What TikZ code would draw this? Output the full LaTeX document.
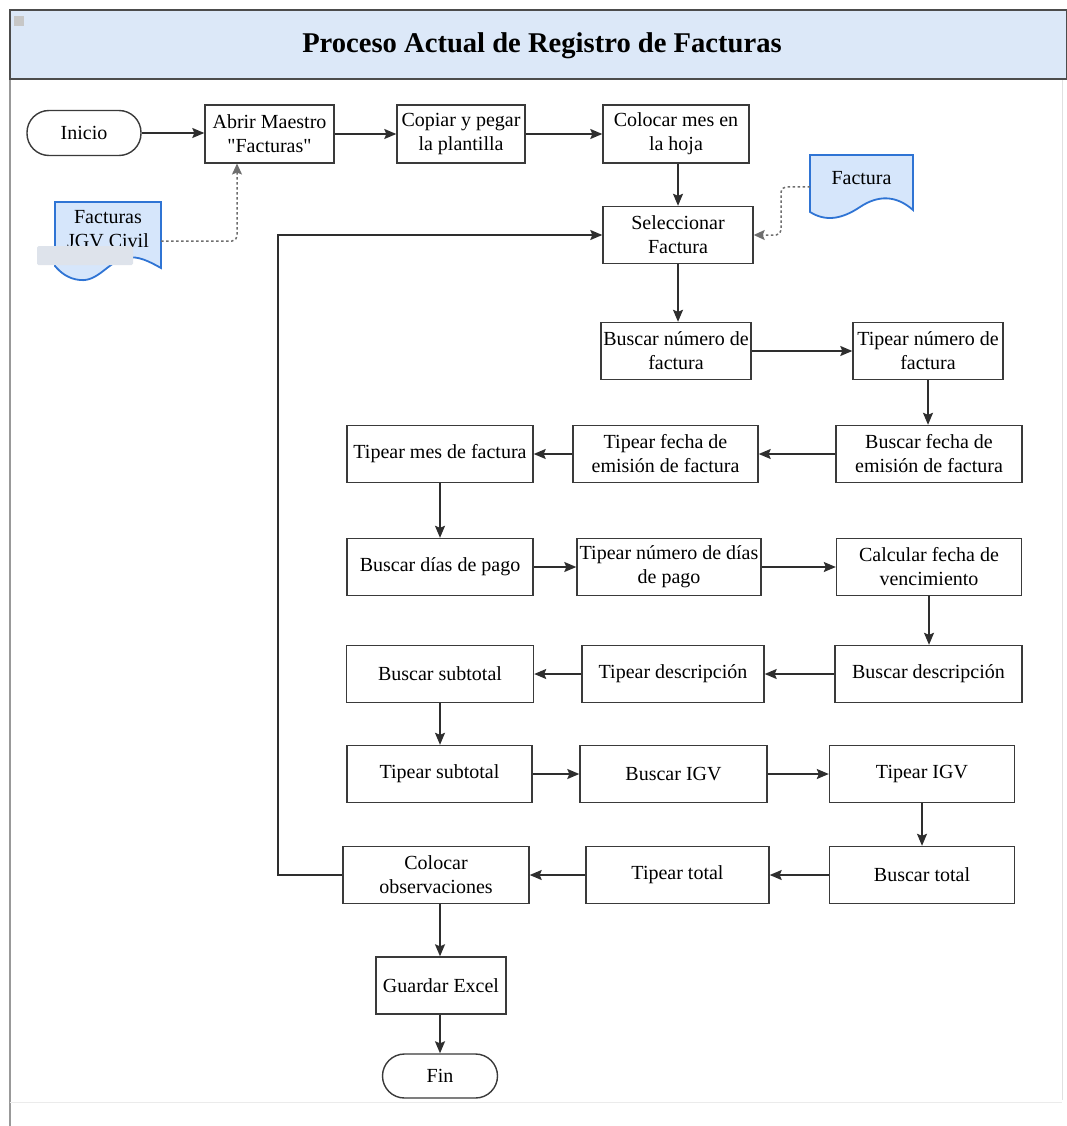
\documentclass[tikz,border=0pt]{standalone}
\usepackage{fontspec}
\setmainfont{Liberation Serif}
\newfontfamily\plainquote{Liberation Serif}[Ligatures=ResetAll]
\newcommand{\dq}{{\plainquote"}}
\usetikzlibrary{arrows.meta,calc}
\definecolor{bandblue}{HTML}{DCE8F8}
\definecolor{boxline}{HTML}{3A3A3A}
\definecolor{arrowline}{HTML}{2E2E2E}
\definecolor{dotgray}{HTML}{6E6E6E}
\definecolor{docfill}{HTML}{D6E6FB}
\definecolor{docline}{HTML}{2F74D4}
\definecolor{maskgray}{HTML}{DEE3EB}
\begin{document}
\begin{tikzpicture}[x=1pt,y=-1pt,
  every node/.style={font=\fontsize{20}{24}\selectfont, text=black},
  proc/.style={draw=boxline, line width=1.4pt, fill=white, align=center,
    inner sep=1pt, minimum height=57},
  term/.style={proc, rounded corners=22, minimum height=45},
  doclabel/.style={align=center, inner sep=0pt},
  docshape/.style={draw=docline, line width=1.8pt, fill=docfill},
  flow/.style={draw=arrowline, line width=1.5pt,
    -{Stealth[length=12pt,width=10pt,inset=2pt]}},
  dots/.style={draw=dotgray, line width=1.5pt, dash pattern=on 2.5pt off 2.5pt,
    rounded corners=5, -{Stealth[length=11pt,width=10pt,inset=2pt]}},
]
\useasboundingbox (0,0) rectangle (1067,1126);

% frame and title band
\draw[draw=black!40, line width=1.5pt] (10,79) -- (10,1126);
\draw[draw=black!12, line width=1pt] (1062,79) -- (1062,1100);
\draw[draw=black!8, line width=1pt] (10,1102) -- (1062,1102);
\draw[fill=bandblue, draw=black!70, line width=1.2pt] (10,10) rectangle (1067,79);
\fill[black!22] (14,16) rectangle (24,26);
\node[font=\fontsize{28.6}{32}\bfseries\selectfont] (title) at (542,46)
  {Proceso Actual de Registro de Facturas};

% process steps
\node[term, minimum width=114] (inicio) at (84,133) {Inicio};
\node[proc, minimum width=129, minimum height=58] (abrir) at (269.5,134) {Abrir Maestro\\\dq Facturas\dq};
\node[proc, minimum width=128, minimum height=58] (copiar) at (461,134) {Copiar y pegar\\la plantilla};
\node[proc, minimum width=146, minimum height=58] (colmes) at (676,134) {Colocar mes en\\la hoja};
\node[proc, minimum width=150] (selec) at (678,235) {Seleccionar\\Factura};
\node[proc, minimum width=150] (bnum) at (676,351) {Buscar número de\\factura};
\node[proc, minimum width=150] (tnum) at (928,351) {Tipear número de\\factura};
\node[proc, minimum width=186] (bfecha) at (929,454) {Buscar fecha de\\emisión de factura};
\node[proc, minimum width=185] (tfecha) at (665.5,454) {Tipear fecha de\\emisión de factura};
\node[proc, minimum width=186] (tmes) at (440,454) {Tipear mes de factura};
\node[proc, minimum width=186] (bdias) at (440,567) {Buscar días de pago};
\node[proc, minimum width=184] (tdias) at (669,567) {Tipear número de días\\de pago};
\node[proc, minimum width=185] (calc) at (929,567) {Calcular fecha de\\vencimiento};
\node[proc, minimum width=187] (bdesc) at (928.5,674) {Buscar descripción};
\node[proc, minimum width=182] (tdesc) at (673,674) {Tipear descripción};
\node[proc, minimum width=187] (bsub) at (440,674) {Buscar subtotal};
\node[proc, minimum width=185] (tsub) at (439.5,774) {Tipear subtotal};
\node[proc, minimum width=187] (bigv) at (673.5,774) {Buscar IGV};
\node[proc, minimum width=185] (tigv) at (922,774) {Tipear IGV};
\node[proc, minimum width=185] (btot) at (922,875) {Buscar total};
\node[proc, minimum width=183] (ttot) at (677.5,875) {Tipear total};
\node[proc, minimum width=186] (cobs) at (436,875) {Colocar\\observaciones};
\node[proc, minimum width=130] (guardar) at (441,985.5) {Guardar Excel};
\node[term, minimum width=115, minimum height=44] (fin) at (440,1076) {Fin};

% input documents
\path[docshape] (810,155) -- (913,155) -- (913,210)
  .. controls (896,195) and (878,195) .. (860,207)
  .. controls (842,219) and (826,222) .. (810,212) -- cycle;
\node[doclabel, minimum width=103, minimum height=40] (facdoc) at (861.5,178) {Factura};

\path[docshape] (55,202) -- (161,202) -- (161,268)
  .. controls (150,262) and (138,255) .. (125,258)
  .. controls (108,262) and (98,282) .. (80,280)
  .. controls (68,279) and (60,272) .. (55,266) -- cycle;
\node[doclabel, minimum width=106, minimum height=52] (jgvdoc) at (108,229) {Facturas\\JGV Civil};
\fill[maskgray, rounded corners=1.5] (37,246) rectangle (133,265);

% main flow
\draw[flow] (inicio) -- (inicio.east -| abrir.west);
\draw[flow] (abrir) -- (copiar);
\draw[flow] (copiar) -- (colmes);
\draw[flow] (selec.north |- colmes.south) -- (selec.north);
\draw[flow] (selec.south) -- (selec.south |- bnum.north);
\draw[flow] (bnum) -- (tnum);
\draw[flow] (tnum.south) -- (tnum.south |- bfecha.north);
\draw[flow] (bfecha) -- (tfecha);
\draw[flow] (tfecha) -- (tmes);
\draw[flow] (tmes) -- (bdias);
\draw[flow] (bdias) -- (tdias);
\draw[flow] (tdias) -- (calc);
\draw[flow] (calc.south) -- (calc.south |- bdesc.north);
\draw[flow] (bdesc) -- (tdesc);
\draw[flow] (tdesc) -- (bsub);
\draw[flow] (bsub.south) -- (bsub.south |- tsub.north);
\draw[flow] (tsub) -- (bigv);
\draw[flow] (bigv) -- (tigv);
\draw[flow] (tigv) -- (btot);
\draw[flow] (btot) -- (ttot);
\draw[flow] (ttot) -- (cobs);
\draw[flow] (fin.north |- cobs.south) -- (fin.north |- guardar.north);
\draw[flow] (fin.north |- guardar.south) -- (fin.north);

% loop back for the next invoice
\coordinate (loopx) at (278,0);
\draw[flow] (cobs.west) -- (cobs.west -| loopx) |- (selec.west);

% document inputs
\draw[dots] (161,241) -| (237,163.5);
\draw[dots] (810,187) -| (781,235) -- (selec.east);
\end{tikzpicture}
\end{document}
